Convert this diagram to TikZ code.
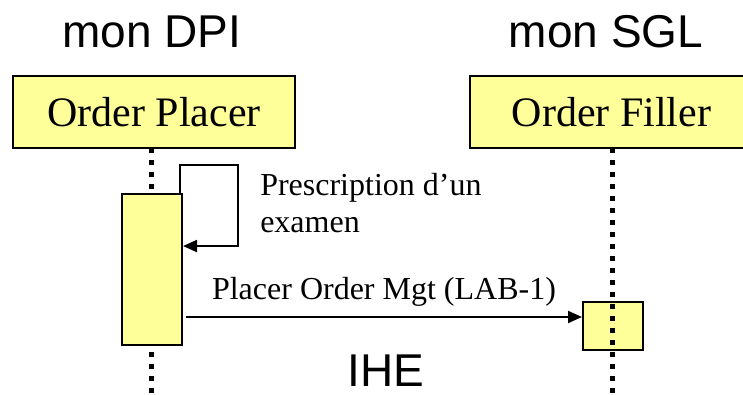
\documentclass[tikz,border=0pt]{standalone}
\usepackage{fontspec}
\setmainfont{Liberation Serif}
\setsansfont{Liberation Sans}
\usepackage{tikz}
\usetikzlibrary{positioning}
\usetikzlibrary{arrows.meta}
\usetikzlibrary{calc}
\usepackage{xcolor}
\definecolor{actorfill}{HTML}{FFFF99}

\begin{document}
\begin{tikzpicture}[
  x=0.75pt, y=-0.75pt,
  actor/.style={draw, line width=1.5pt, fill=actorfill, inner sep=0pt, minimum height=54pt,
    font=\fontsize{31.5}{36}\selectfont},
  activation/.style={draw, line width=1.5pt, fill=actorfill, inner sep=0pt, minimum width=45pt},
  title/.style={anchor=base, inner sep=0pt, font=\sffamily\fontsize{34.5}{40}\selectfont},
  label/.style={inner sep=0pt, font=\fontsize{24}{27.75}\selectfont},
  lifeline/.style={line width=3.75pt, dash pattern=on 3.75pt off 5.25pt},
  msg/.style={-{Triangle[length=10.5pt, width=9pt]}, line width=1.5pt}
]
\useasboundingbox (0,0) rectangle (743,394);
\clip (0,0) rectangle (743,394);

\node[title] (dpi) at (152,47) {mon DPI};
\node[title] (sgl) at (606,47) {mon SGL};

\node[actor, minimum width=211.5pt] (placer) at (154,112) {Order Placer};
\node[actor, minimum width=212.25pt] (filler) at (611.5,112) {Order Filler};

% lifelines
\coordinate (placerline) at (151,148);
\coordinate (fillerline) at (612,148);
\draw[lifeline] (placerline) -- (placerline |- 0,400);

\node[activation, minimum height=113.25pt] (placeract) at (152,269.5) {};
\node[activation, minimum height=36pt] (filleract) at (613,326) {};
\draw[lifeline] (fillerline) -- (fillerline |- 0,400);

% self message
\coordinate (loopcorner) at (238,165);
\draw[msg] ([xshift=-2.25pt]placeract.north east) |- (loopcorner) |- ([yshift=17.6pt]placeract.east);
\node[label, anchor=north west, align=left] (prescr) at (260,173) {Prescription d'un\\examen};

% order message
\coordinate (req) at ([yshift=6.75pt]filleract.west);
\draw[msg] ([xshift=2.25pt]placeract.east |- req) -- node[label, anchor=base, yshift=13.5pt] (reqlabel) {Placer Order Mgt (LAB-1)} (req);

\node[title] (ihe) at (386,386) {IHE};

\end{tikzpicture}
\end{document}
